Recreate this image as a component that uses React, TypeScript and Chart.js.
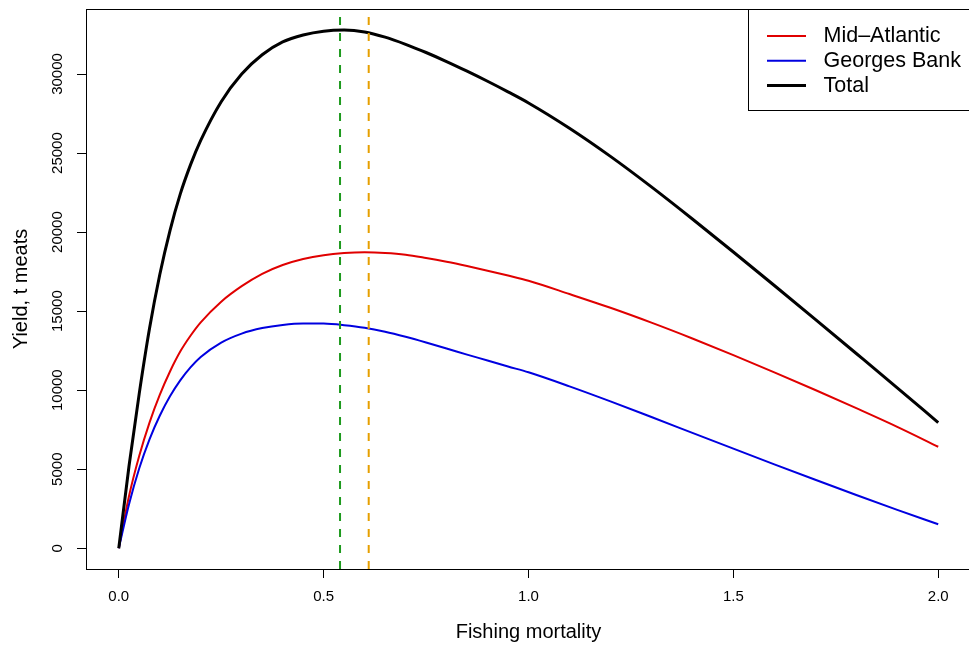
import React, { useEffect, useRef } from "react";
import { Chart, registerables } from "chart.js";

Chart.register(...registerables);

// ---- data ----
const fishingMortality = [
  0, 0.025, 0.05, 0.075, 0.1, 0.125, 0.15, 0.175, 0.2, 0.25, 0.3, 0.35, 0.4, 0.45,
  0.5, 0.55, 0.6, 0.65, 0.7, 0.75, 0.8, 0.85, 0.9, 0.95, 1.0, 1.1, 1.2, 1.3, 1.4, 1.5,
  1.6, 1.7, 1.8, 1.9, 2.0,
];
const midAtlantic = [
  0, 3300, 5850, 7950, 9700, 11180, 12440, 13440, 14290, 15600, 16580, 17360, 17920,
  18300, 18540, 18670, 18720, 18680, 18570, 18360, 18120, 17850, 17560, 17250, 16920,
  16080, 15210, 14270, 13270, 12220, 11130, 10010, 8860, 7680, 6420,
];
const georgesBank = [
  0, 2790, 5060, 6890, 8380, 9610, 10620, 11440, 12100, 13010, 13580, 13930, 14130,
  14220, 14210, 14110, 13950, 13700, 13380, 13020, 12640, 12250, 11880, 11500, 11130,
  10240, 9290, 8300, 7300, 6300, 5310, 4330, 3370, 2430, 1520,
];
const total = [
  0, 5200, 9800, 13900, 17300, 20100, 22400, 24250, 25800, 28250, 30000, 31220, 32030,
  32470, 32710, 32780, 32660, 32330, 31880, 31360, 30790, 30180, 29540, 28870, 28170,
  26570, 24790, 22860, 20830, 18740, 16620, 14480, 12320, 10150, 7950,
];
const referenceF = [0.54, 0.61];

const seriesLabels = ["Mid\u2013Atlantic", "Georges Bank", "Total"];
const xTickValues = [0, 0.5, 1.0, 1.5, 2.0];
const yTickValues = [0, 5000, 10000, 15000, 20000, 25000, 30000];
const xTitle = "Fishing mortality";
const yTitle = "Yield, t meats";

const X_MIN = -0.08;
const X_MAX = 2.08;
const Y_MIN = -1312;
const Y_MAX = 34112;

const W = 980;
const H = 646;
const FONT = "'Liberation Sans', Arial, Helvetica, sans-serif";

const toPoints = (ys: number[]) => fishingMortality.map((x, i) => ({ x, y: ys[i] }));

const framePlugin = {
  id: "frameAndLegend",
  afterDraw(chart: any) {
    const { ctx, chartArea: a } = chart;
    ctx.save();
    ctx.strokeStyle = "#000";
    ctx.lineWidth = 1;
    ctx.strokeRect(
      Math.round(a.left) + 0.5,
      Math.round(a.top) + 0.5,
      Math.round(a.right - a.left),
      Math.round(a.bottom - a.top)
    );
    // legend
    const boxLeft = 748.5;
    const boxTop = Math.round(a.top) + 0.5;
    ctx.fillStyle = "#fff";
    ctx.fillRect(boxLeft, boxTop, 400, 101);
    ctx.strokeRect(boxLeft, boxTop, 400, 101);
    const items = chart.data.datasets.filter((d: any) => d.inLegend);
    ctx.font = `21.5px ${FONT}`;
    ctx.textBaseline = "middle";
    ctx.textAlign = "left";
    items.forEach((d: any, i: number) => {
      const y = 36 + i * 24.8;
      ctx.beginPath();
      ctx.strokeStyle = d.borderColor;
      ctx.lineWidth = d.borderWidth;
      ctx.moveTo(767, y);
      ctx.lineTo(806, y);
      ctx.stroke();
      ctx.fillStyle = "#000";
      ctx.fillText(d.label, 823.5, y);
    });
    ctx.restore();
  },
};

export default function App() {
  const ref = useRef<HTMLCanvasElement | null>(null);

  useEffect(() => {
    if (!ref.current) return;
    const curve = (label: string, ys: number[], color: string, width: number, order: number) => ({
      label,
      data: toPoints(ys),
      borderColor: color,
      backgroundColor: color,
      borderWidth: width,
      pointRadius: 0,
      showLine: true,
      cubicInterpolationMode: "monotone",
      inLegend: true,
      order,
    });
    const vline = (x: number, color: string) => ({
      label: "",
      data: [
        { x, y: Y_MIN },
        { x, y: Y_MAX },
      ],
      borderColor: color,
      backgroundColor: color,
      borderWidth: 2,
      borderDash: [8, 8],
      pointRadius: 0,
      showLine: true,
      inLegend: false,
      order: 0,
    });

    const chart = new Chart(ref.current, {
      type: "scatter",
      data: {
        datasets: [
          curve(seriesLabels[0], midAtlantic, "#E00000", 2, 3),
          curve(seriesLabels[1], georgesBank, "#0000E0", 2, 2),
          curve(seriesLabels[2], total, "#000000", 3, 1),
          vline(referenceF[0], "#1E9A1E"),
          vline(referenceF[1], "#E69F00"),
        ] as any,
      },
      options: {
        animation: false,
        responsive: false,
        devicePixelRatio: 1,
        events: [],
        layout: { padding: { left: 0, top: 9, right: W - 971, bottom: 0 } },
        plugins: {
          legend: { display: false },
          tooltip: { enabled: false },
          title: { display: false },
        },
        scales: {
          x: {
            type: "linear",
            min: X_MIN,
            max: X_MAX,
            afterBuildTicks(s: any) {
              s.ticks = xTickValues.map((v) => ({ value: v }));
            },
            afterFit(s: any) {
              s.height = 77;
              s.paddingLeft = 0;
              s.paddingRight = 0;
            },
            ticks: {
              autoSkip: false,
              maxRotation: 0,
              minRotation: 0,
              padding: 10,
              color: "#000",
              font: { family: FONT, size: 15 },
              callback: (v: any) => Number(v).toFixed(1),
            },
            grid: {
              display: true,
              drawOnChartArea: false,
              drawTicks: true,
              tickLength: 9,
              color: "#000",
              lineWidth: 1,
            },
            border: { display: false },
            title: {
              display: true,
              text: xTitle,
              color: "#000",
              font: { family: FONT, size: 20 },
              padding: { top: 0, bottom: 2 },
            },
          },
          y: {
            type: "linear",
            min: Y_MIN,
            max: Y_MAX,
            afterBuildTicks(s: any) {
              s.ticks = yTickValues.map((v) => ({ value: v }));
            },
            afterFit(s: any) {
              s.width = 86;
              s.paddingTop = 0;
              s.paddingBottom = 0;
            },
            ticks: {
              autoSkip: false,
              minRotation: 90,
              maxRotation: 90,
              crossAlign: "center",
              padding: -2,
              color: "#000",
              font: { family: FONT, size: 15 },
              callback: (v: any) => String(v),
            },
            grid: {
              display: true,
              drawOnChartArea: false,
              drawTicks: true,
              tickLength: 9,
              color: "#000",
              lineWidth: 1,
            },
            border: { display: false },
            title: {
              display: true,
              text: yTitle,
              color: "#000",
              font: { family: FONT, size: 20 },
              padding: { top: 9, bottom: 0 },
            },
          },
        },
      } as any,
      plugins: [framePlugin],
    });
    return () => chart.destroy();
  }, []);

  return (
    <div
      style={{
        position: "fixed",
        left: 0,
        top: 0,
        width: 969,
        height: 646,
        overflow: "hidden",
        background: "#fff",
      }}
    >
      <canvas ref={ref} width={W} height={H} style={{ display: "block", width: W, height: H }} />
    </div>
  );
}
